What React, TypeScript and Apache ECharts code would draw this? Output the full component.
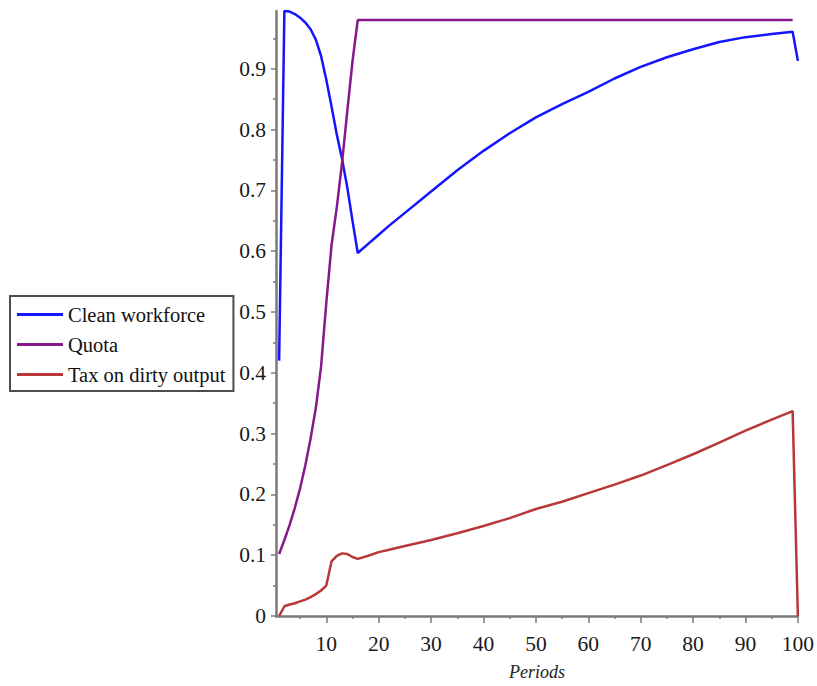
import React, { useEffect, useRef } from "react";
import * as echarts from "echarts";

// Periods sampled for every series (dense where the paths bend sharply)
const periods = [
  1, 2, 3, 4, 5, 6, 7, 8, 9, 10, 11, 12, 13, 14, 15, 16, 18, 20, 22, 25, 30, 35,
  40, 45, 50, 55, 60, 65, 70, 75, 80, 85, 90, 95, 99, 100,
];

const cleanWorkforce = [
  0.42, 0.995, 0.994, 0.99, 0.984, 0.976, 0.965, 0.948, 0.921, 0.882, 0.838,
  0.792, 0.752, 0.705, 0.65, 0.597, 0.612, 0.627, 0.642, 0.663, 0.698, 0.733,
  0.765, 0.794, 0.82, 0.842, 0.862, 0.884, 0.903, 0.919, 0.932, 0.944, 0.952,
  0.957, 0.961, 0.913,
];

// The quota path stops at period 99
const quota = [
  0.102, 0.125, 0.15, 0.178, 0.21, 0.248, 0.292, 0.342, 0.41, 0.515, 0.61,
  0.672, 0.745, 0.83, 0.912, 0.98, 0.98, 0.98, 0.98, 0.98, 0.98, 0.98, 0.98,
  0.98, 0.98, 0.98, 0.98, 0.98, 0.98, 0.98, 0.98, 0.98, 0.98, 0.98, 0.98, null,
];

const taxOnDirtyOutput = [
  0, 0.016, 0.019, 0.021, 0.024, 0.027, 0.031, 0.036, 0.042, 0.05, 0.09, 0.099,
  0.103, 0.102, 0.097, 0.094, 0.099, 0.105, 0.109, 0.115, 0.125, 0.136, 0.148,
  0.161, 0.176, 0.188, 0.202, 0.216, 0.231, 0.248, 0.266, 0.285, 0.305, 0.323,
  0.337, 0,
];

const xMajorTicks = [10, 20, 30, 40, 50, 60, 70, 80, 90, 100];
const xMinorTicks = [5, 15, 25, 35, 45, 55, 65, 75, 85, 95];
const yMajorTicks = [0, 0.1, 0.2, 0.3, 0.4, 0.5, 0.6, 0.7, 0.8, 0.9];
const yMinorTicks = [0.05, 0.15, 0.25, 0.35, 0.45, 0.55, 0.65, 0.75, 0.85, 0.95];

const seriesNames = ["Clean workforce", "Quota", "Tax on dirty output"];
const seriesColors = ["#1414ff", "#86198a", "#b8383a"];

const FONT = "'Liberation Serif', 'Times New Roman', serif";
const AXIS_GRAY = "#7a7a7a";
const X_MIN = 0.4;
const X_MAX = 100;
const Y_MIN = 0;
const Y_MAX = 0.995;

const toPoints = (values: (number | null)[]) =>
  periods.map((p, i) => [p, values[i]]);

function buildOption(): echarts.EChartsCoreOption {
  const valueSets = [cleanWorkforce, quota, taxOnDirtyOutput];
  return {
    animation: false,
    backgroundColor: "#ffffff",
    grid: { left: 276, right: 17, top: 11, bottom: 69, containLabel: false },
    legend: {
      orient: "vertical",
      left: 10,
      top: 296,
      padding: [8, 8, 6, 7],
      itemGap: 9,
      itemWidth: 46,
      itemHeight: 3,
      icon: "rect",
      borderColor: "#4d4d4d",
      borderWidth: 2,
      backgroundColor: "#ffffff",
      textStyle: { fontFamily: FONT, fontSize: 20.5, color: "#111111" },
      data: seriesNames,
    },
    xAxis: [
      {
        type: "value",
        min: X_MIN,
        max: X_MAX,
        position: "bottom",
        name: "Periods",
        nameLocation: "middle",
        nameGap: 47,
        nameTextStyle: {
          fontFamily: FONT,
          fontSize: 18,
          fontStyle: "italic",
          color: "#222222",
        },
        axisLine: { show: true, onZero: false, lineStyle: { color: AXIS_GRAY, width: 2.5 } },
        axisTick: {
          show: true,
          length: 7,
          customValues: xMajorTicks,
          lineStyle: { color: AXIS_GRAY, width: 1.5 },
        },
        axisLabel: {
          customValues: xMajorTicks,
          margin: 17,
          fontFamily: FONT,
          fontSize: 21.5,
          color: "#1a1a1a",
        },
        splitLine: { show: false },
      },
      {
        type: "value",
        min: X_MIN,
        max: X_MAX,
        position: "bottom",
        axisLine: { show: false },
        axisTick: {
          show: true,
          length: 3,
          customValues: xMinorTicks,
          lineStyle: { color: AXIS_GRAY, width: 1.5 },
        },
        axisLabel: { show: false },
        splitLine: { show: false },
      },
    ],
    yAxis: [
      {
        type: "value",
        min: Y_MIN,
        max: Y_MAX,
        position: "left",
        axisLine: { show: true, onZero: false, lineStyle: { color: AXIS_GRAY, width: 2.5 } },
        axisTick: {
          show: true,
          length: 5,
          customValues: yMajorTicks,
          lineStyle: { color: AXIS_GRAY, width: 1.5 },
        },
        axisLabel: {
          customValues: yMajorTicks,
          margin: 10,
          fontFamily: FONT,
          fontSize: 21.5,
          color: "#1a1a1a",
          formatter: (v: number) => (v === 0 ? "0" : String(Number(v.toFixed(2)))),
        },
        splitLine: { show: false },
      },
      {
        type: "value",
        min: Y_MIN,
        max: Y_MAX,
        position: "left",
        axisLine: { show: false },
        axisTick: {
          show: true,
          length: 3,
          customValues: yMinorTicks,
          lineStyle: { color: AXIS_GRAY, width: 1.5 },
        },
        axisLabel: { show: false },
        splitLine: { show: false },
      },
    ],
    series: seriesNames.map((name, i) => ({
      name,
      type: "line",
      xAxisIndex: 0,
      yAxisIndex: 0,
      data: toPoints(valueSets[i]),
      symbol: "none",
      clip: false,
      connectNulls: false,
      color: seriesColors[i],
      lineStyle: { color: seriesColors[i], width: 2.5 },
      z: 2 + i,
    })),
  };
}

export default function App() {
  const ref = useRef<HTMLDivElement>(null);

  useEffect(() => {
    if (!ref.current) return;
    const chart = echarts.init(ref.current, null, { renderer: "svg" });
    chart.setOption(buildOption());
    return () => chart.dispose();
  }, []);

  return (
    <div
      ref={ref}
      style={{ position: "fixed", left: 0, top: 0, width: 817, height: 686 }}
    />
  );
}
